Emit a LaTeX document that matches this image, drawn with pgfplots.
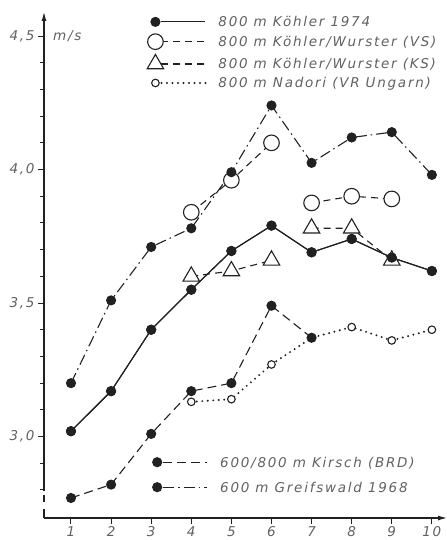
\documentclass[border=0pt]{standalone}
\usepackage{fontspec}
\setmainfont{DejaVu Sans}[LetterSpace=13]
\usepackage{pgfplots}
\usepackage{pgfplotstable}
\pgfplotsset{compat=1.18}
\usetikzlibrary{arrows.meta}
\definecolor{ink}{gray}{0.13}
\definecolor{txt}{gray}{0.38}
\newcommand{\lf}{\fontsize{13.5bp}{16bp}\selectfont\itshape}
\pgfplotstableread{
x y
1 3.02
2 3.17
3 3.40
4 3.55
5 3.695
6 3.79
7 3.69
8 3.74
9 3.67
10 3.62
}\koehler
\begin{document}
\begin{tikzpicture}
\pgfplotsset{
  common/.style={
    at={(0,0)}, anchor=south west,
    scale only axis, width=403bp, height=506bp,
    xmin=0.327, xmax=10.377, ymin=2.695, ymax=4.59,
    clip=false,
    legend cell align=left,
    legend image code/.code={
      \path[draw=none, fill=none] (-8bp,-6bp) rectangle (52bp,6bp);
      \draw[##1, mark=none] (6bp,0bp) -- (50bp,0bp);
      \draw[##1] plot coordinates {(0bp,0bp)};
    },
  },
  dotm/.style={ink, line width=1.1bp, mark=*, mark size=4.5bp, mark options={solid, fill=ink}},
}
\begin{axis}[common, name=main,
  axis lines=left,
  y axis line style={draw=none},
  x axis line style={ink, line width=1.1bp, -{Latex[length=9bp,width=5bp]}},
  tick style={ink, line width=1bp},
  tick align=outside,
  major tick length=6bp, minor tick length=4bp,
  xtick={1,2,3,4,5,6,7,8,9,10},
  ytick={3.0,3.5,4.0,4.5},
  yticklabels={{3,0},{3,5},{4,0},{4,5}},
  minor ytick={2.8,2.9,3.1,3.2,3.3,3.4,3.6,3.7,3.8,3.9,4.1,4.2,4.3,4.4},
  ticklabel style={font=\lf, text=txt},
  xticklabel style={inner sep=0pt, yshift=-2bp},
  /pgf/number format/assume math mode=true,
  unbounded coords=jump,
  legend style={at={(axis description cs:0.2556,0.9947)}, anchor=north west,
    draw=none, fill=none, inner sep=0pt, row sep=5bp, column sep=11bp,
    font=\lf, text=txt,
    nodes={inner sep=0pt, text height=12bp, text depth=2bp}},
]
% Koehler 1974
\addplot[dotm, solid] table {\koehler};
% Koehler/Wurster VS
\addplot[ink, line width=1.1bp, dash pattern=on 7bp off 5bp, mark=*, mark size=7.8bp, mark options={solid, fill=white, draw=ink}]
  coordinates {(4,3.84) (5,3.96) (6,4.10) (6.5,nan) (7,3.875) (8,3.90) (9,3.89)};
% Koehler/Wurster KS
\addplot[ink, line width=1.1bp, dash pattern=on 7bp off 5bp, mark=triangle*, mark size=9.5bp, mark options={solid, fill=white, draw=ink}]
  coordinates {(4,3.60) (5,3.62) (6,3.66) (6.5,nan) (7,3.78) (8,3.78) (9,3.66)};
% Nadori
\addplot[ink, line width=2.2bp, line cap=round, dash pattern=on 0bp off 5.5bp, mark=*, mark size=3.8bp, mark options={solid, line width=1.1bp, fill=white, draw=ink}]
  coordinates {(4,3.13) (5,3.14) (6,3.27) (7,3.37) (8,3.41) (9,3.36) (10,3.40)};
% Koehler again on top of the open marks
\addplot[dotm, solid, forget plot] table {\koehler};
% Kirsch
\addplot[dotm, dash pattern=on 9bp off 5bp] coordinates {(1,2.77) (2,2.82) (3,3.01) (4,3.17) (5,3.20) (6,3.49) (7,3.37)};
% Greifswald 1968
\addplot[dotm, dash pattern=on 11bp off 4bp on 1.5bp off 4bp] coordinates {(1,3.20) (2,3.51) (3,3.71) (4,3.78) (5,3.99) (6,4.24) (7,4.025) (8,4.12) (9,4.14) (10,3.98)};
\legend{800 m Köhler 1974, 800 m Köhler/Wurster (VS), 800 m Köhler/Wurster (KS), 800 m Nadori (VR Ungarn)}
% y axis with break
\draw[ink, line width=1.1bp, -{Latex[length=9bp,width=5bp]}] (axis cs:0.327,2.795) -- (axis cs:0.327,4.59);
\draw[ink, line width=1.1bp] (axis cs:0.327,2.755) -- (axis cs:0.327,2.78);
\draw[ink, line width=1.1bp] (axis cs:0.327,2.695) -- (axis cs:0.327,2.73);
\node[anchor=west, font=\lf, text=txt, inner sep=0pt, xshift=9bp] at (axis cs:0.327,4.5) {m/s};
\end{axis}
\begin{axis}[common, hide axis,
  legend style={at={(axis description cs:0.2605,0.1245)}, anchor=north west,
    draw=none, fill=none, inner sep=0pt, row sep=11bp, column sep=11bp,
    font=\lf, text=txt,
    nodes={inner sep=0pt, text height=12bp, text depth=2bp}},
]
\addlegendimage{dotm, dash pattern=on 9bp off 5bp}
\addlegendentry{600/800 m Kirsch (BRD)}
\addlegendimage{dotm, dash pattern=on 11bp off 4bp on 1.5bp off 4bp}
\addlegendentry{600 m Greifswald 1968}
\end{axis}
\pgfresetboundingbox
\path ([shift={(-44bp,-22bp)}]main.south west) rectangle ([shift={(0bp,12bp)}]main.north east);
\end{tikzpicture}
\end{document}
